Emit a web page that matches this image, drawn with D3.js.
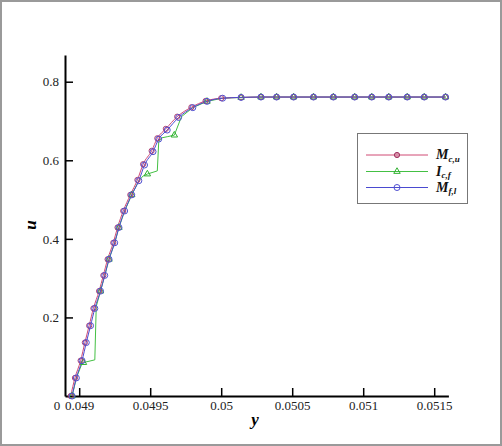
<!DOCTYPE html>
<html><head><meta charset="utf-8">
<script src="https://cdn.jsdelivr.net/npm/d3@7"></script>
<style>body{margin:0;background:#fff}svg{display:block}</style>
</head><body>
<script>
// ---- data ----
const xMajorTicks = [0.049, 0.0495, 0.05, 0.0505, 0.051, 0.0515];
const xTickLabels = ["0.049", "0.0495", "0.05", "0.0505", "0.051", "0.0515"];
const yMajorTicks = [0.2, 0.4, 0.6, 0.8];
const yTickLabels = ["0.2", "0.4", "0.6", "0.8"];

const mcuX = [0.04894,0.04897,0.04901,0.04904,0.04907,0.04910,0.04914,0.04917,0.04920,0.04924,0.04927,0.04931,0.04936,0.04941,0.04945,0.04951,0.04955,0.04961,0.04969,0.04979,0.04989,0.05000,0.05014,0.05028,0.05039,0.05051,0.05065,0.05079,0.05094,0.05106,0.05118,0.05131,0.05143,0.05158];
const mcuY = [0.000,0.046,0.090,0.136,0.179,0.223,0.267,0.307,0.348,0.390,0.429,0.471,0.512,0.550,0.590,0.624,0.656,0.680,0.711,0.735,0.751,0.758,0.760,0.761,0.761,0.761,0.761,0.761,0.761,0.761,0.761,0.761,0.761,0.761];

const mflX = [0.04895,0.04898,0.04902,0.04905,0.04908,0.04911,0.04915,0.04918,0.04921,0.04925,0.04928,0.04932,0.04937,0.04942,0.04946,0.04952,0.04956,0.04962,0.04970,0.04980,0.04990,0.05001,0.05014,0.05028,0.05039,0.05051,0.05065,0.05079,0.05094,0.05106,0.05118,0.05131,0.05143,0.05158];
const mflY = [0.000,0.046,0.090,0.136,0.179,0.223,0.267,0.307,0.348,0.390,0.429,0.471,0.512,0.548,0.588,0.622,0.654,0.677,0.709,0.734,0.750,0.758,0.760,0.761,0.761,0.761,0.761,0.761,0.761,0.761,0.761,0.761,0.761,0.761];

const icfX = [0.04895,0.04898,0.04902,0.04904,0.04911,0.04912,0.04915,0.04918,0.04921,0.04925,0.04928,0.04932,0.04937,0.04942,0.04945,0.04948,0.04955,0.04956,0.04958,0.04962,0.04967,0.04972,0.04980,0.04990,0.05001,0.05014,0.05028,0.05039,0.05051,0.05065,0.05079,0.05094,0.05106,0.05118,0.05131,0.05143,0.05158];
const icfY = [0.000,0.046,0.083,0.086,0.092,0.228,0.267,0.307,0.348,0.390,0.429,0.471,0.512,0.548,0.560,0.565,0.573,0.647,0.657,0.660,0.664,0.711,0.734,0.750,0.758,0.760,0.761,0.761,0.761,0.761,0.761,0.761,0.761,0.761,0.761,0.761,0.761];
const icfMarkX = [0.04895,0.04903,0.04915,0.04921,0.04928,0.04937,0.04948,0.04967,0.04990,0.05014,0.05028,0.05039,0.05051,0.05065,0.05079,0.05094,0.05106,0.05118,0.05131,0.05143,0.05158];
const icfMarkY = [0.000,0.085,0.267,0.348,0.429,0.512,0.565,0.664,0.750,0.760,0.761,0.761,0.761,0.761,0.761,0.761,0.761,0.761,0.761,0.761,0.761];

const seriesNames = ["M","I","M"];
const seriesSubs = ["c,u","c,f","f,l"];
const colors = {red:"#d04a74", green:"#44c044", blue:"#4a4ad0"};

// ---- drawing ----
const W = 502, H = 446;
const svg = d3.select("body").append("svg").attr("width", W).attr("height", H);
svg.append("rect").attr("x",1).attr("y",1).attr("width",W-2).attr("height",H-2)
  .attr("fill","#fff").attr("stroke","#9a9a9a").attr("stroke-width",2);

const x = d3.scaleLinear().domain([0.0489, 0.0516]).range([65, 448.4]);
const y = d3.scaleLinear().domain([0, 0.868]).range([396, 55]);
const font = "Liberation Serif";

// minor ticks
const xMinor = d3.range(0, 28).map(i => 0.0489 + i*0.0001).filter(v => !xMajorTicks.some(m => Math.abs(m-v) < 1e-9));
const yMinor = d3.range(1, 18).map(i => i*0.05).filter(v => !yMajorTicks.some(m => Math.abs(m-v) < 1e-9));

const gx = svg.append("g").attr("transform", "translate(0,396)");
gx.call(d3.axisBottom(x).tickValues(xMinor).tickSize(-4).tickSizeOuter(0).tickFormat(""));
gx.call(d3.axisBottom(x).tickValues(xMajorTicks).tickSize(-8).tickSizeOuter(0).tickPadding(5)
  .tickFormat((d,i) => xTickLabels[i]));
const gy = svg.append("g").attr("transform", "translate(65,0)");
gy.call(d3.axisLeft(y).tickValues(yMinor).tickSize(-4).tickSizeOuter(0).tickFormat(""));
gy.call(d3.axisLeft(y).tickValues(yMajorTicks).tickSize(-8).tickSizeOuter(0).tickPadding(6)
  .tickFormat((d,i) => yTickLabels[i]));
svg.selectAll("g").attr("font-family", font);
svg.selectAll(".domain").attr("stroke","#000").attr("stroke-width",2);
svg.selectAll(".tick line").attr("stroke","#000").attr("stroke-width",1.5);
svg.selectAll(".tick text").style("font-family", font).attr("font-size", 13).attr("fill","#222");

svg.append("text").attr("x", 57).attr("y", 410).attr("text-anchor","middle")
  .style("font-family", font).attr("font-size", 13).attr("fill","#222").text("0");

// axis titles
svg.append("text").attr("x", 255).attr("y", 425).attr("text-anchor","middle")
  .style("font-family", font).attr("font-size", 17).attr("font-weight","bold").attr("font-style","italic").text("y");
svg.append("text").attr("transform","translate(36,225) rotate(-90)").attr("text-anchor","middle")
  .style("font-family", font).attr("font-size", 17).attr("font-weight","bold").attr("font-style","italic").text("u");

const plot = svg.append("g");
const mk = (xs, ys) => xs.map((v,i) => [v, ys[i]]);
const lineMono = d3.line().x(d => x(d[0])).y(d => y(d[1])).curve(d3.curveMonotoneX);
const lineLin = d3.line().x(d => x(d[0])).y(d => y(d[1]));

plot.append("path").attr("d", lineLin(mk(icfX, icfY))).attr("fill","none").attr("stroke", colors.green).attr("stroke-width",1);
plot.append("path").attr("d", lineMono(mk(mcuX, mcuY))).attr("fill","none").attr("stroke", colors.red).attr("stroke-width",1);
plot.append("path").attr("d", lineMono(mk(mflX, mflY))).attr("fill","none").attr("stroke", colors.blue).attr("stroke-width",1);

const tri = d3.symbol().type(d3.symbolTriangle).size(18);
function redMarker(g, cx, cy){
  g.append("circle").attr("cx",cx).attr("cy",cy).attr("r",2.6).attr("fill","none").attr("stroke","#b04070").attr("stroke-width",1);
}
function blueMarker(g, cx, cy){
  g.append("circle").attr("cx",cx).attr("cy",cy).attr("r",3).attr("fill","none").attr("stroke","#5050d0").attr("stroke-width",1);
}
function greenMarker(g, cx, cy){
  g.append("path").attr("d", tri()).attr("transform",`translate(${cx},${cy})`).attr("fill","none").attr("stroke","#30b030").attr("stroke-width",1);
}
mk(icfMarkX, icfMarkY).forEach(d => greenMarker(plot, x(d[0]), y(d[1])));
mk(mcuX, mcuY).forEach(d => redMarker(plot, x(d[0]), y(d[1])));
mk(mflX, mflY).forEach(d => blueMarker(plot, x(d[0]), y(d[1])));

// legend
const lg = svg.append("g");
lg.append("rect").attr("x",357.5).attr("y",133.5).attr("width",110).attr("height",70)
  .attr("fill","#fff").attr("stroke","#777").attr("stroke-width",1);
const legY = [155, 171.5, 187.5];
const legCol = [colors.red, colors.green, colors.blue];
const legMark = [
  (g,cx,cy) => g.append("circle").attr("cx",cx).attr("cy",cy).attr("r",2.6).attr("fill","#d890a8").attr("stroke","#a03060").attr("stroke-width",1),
  greenMarker, blueMarker];
legY.forEach((ly, i) => {
  lg.append("line").attr("x1",366).attr("x2",428).attr("y1",ly).attr("y2",ly).attr("stroke",legCol[i]).attr("stroke-width",1);
  legMark[i](lg, 397, ly);
  const t = lg.append("text").attr("x",436).attr("y",ly+4).style("font-family",font)
    .attr("font-weight","bold").attr("font-style","italic").attr("font-size",14).attr("fill","#111");
  t.append("tspan").text(seriesNames[i]);
  t.append("tspan").attr("font-size",9).attr("dy",2.5).text(seriesSubs[i]);
});
</script>
</body></html>
